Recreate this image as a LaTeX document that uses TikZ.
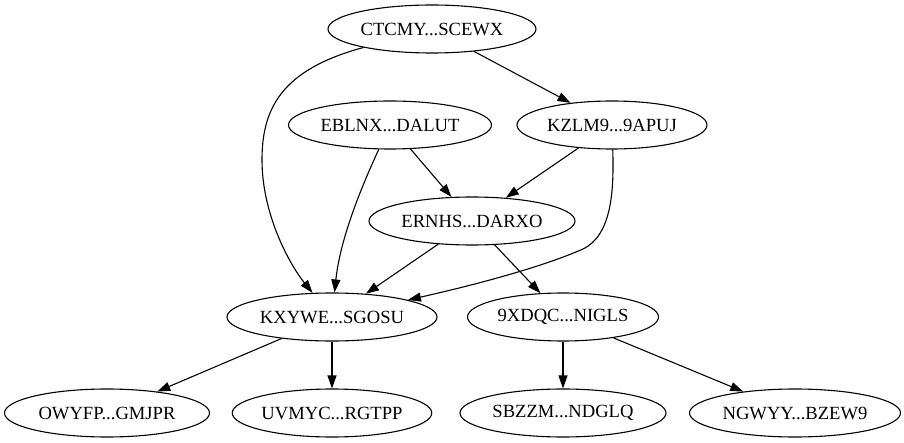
\documentclass[tikz,border=0pt]{standalone}
\usepackage{fontspec}
\setmainfont{Liberation Serif}
\usetikzlibrary{shapes.geometric,arrows.meta}
\begin{document}
\begin{tikzpicture}[x=1pt,y=-1pt,
  gnode/.style={draw,ellipse,line width=1.1pt,minimum height=48pt,inner sep=0pt,
    font=\fontsize{18.6}{20}\selectfont},
  edge/.style={line width=1.1pt,-{Triangle[length=13pt,width=9pt]}}]
\useasboundingbox (0,0) rectangle (904,443);
\node[gnode,minimum width=208pt] (ctc) at (432,29) {CTCMY...SCEWX};
\node[gnode,minimum width=203pt] (ebl) at (390,125) {EBLNX...DALUT};
\node[gnode,minimum width=190pt] (kzl) at (612,125) {KZLM9...9APUJ};
\node[gnode,minimum width=206pt] (ern) at (472,221) {ERNHS...DARXO};
\node[gnode,minimum width=210pt] (kxy) at (332,317) {KXYWE...SGOSU};
\node[gnode,minimum width=191pt] (xdq) at (563,317) {9XDQC...NIGLS};
\node[gnode,minimum width=205pt] (owy) at (107,413) {OWYFP...GMJPR};
\node[gnode,minimum width=198pt] (uvm) at (332,413) {UVMYC...RGTPP};
\node[gnode,minimum width=206pt] (sbz) at (563,413) {SBZZM...NDGLQ};
\node[gnode,minimum width=211pt] (ngw) at (795,413) {NGWYY...BZEW9};
\draw[edge] (ctc) -- (kzl);
\draw[edge] (ctc) .. controls (280,70) and (262,110) .. (262,160) .. controls (262,215) and (290,265) .. (kxy);
\draw[edge] (ebl) .. controls (360,190) and (340,240) .. (kxy);
\draw[edge] (ebl) -- (ern);
\draw[edge] (kzl) -- (ern);
\draw[edge] (kzl) .. controls (614,190) and (612,235) .. (583,249) .. controls (540,268) and (470,286) .. (kxy);
\draw[edge] (ern) -- (kxy);
\draw[edge] (ern) -- (xdq);
\draw[edge] (kxy) -- (owy);
\draw[edge] (kxy) -- (uvm);
\draw[edge] (xdq) -- (sbz);
\draw[edge] (xdq) -- (ngw);
\end{tikzpicture}
\end{document}
